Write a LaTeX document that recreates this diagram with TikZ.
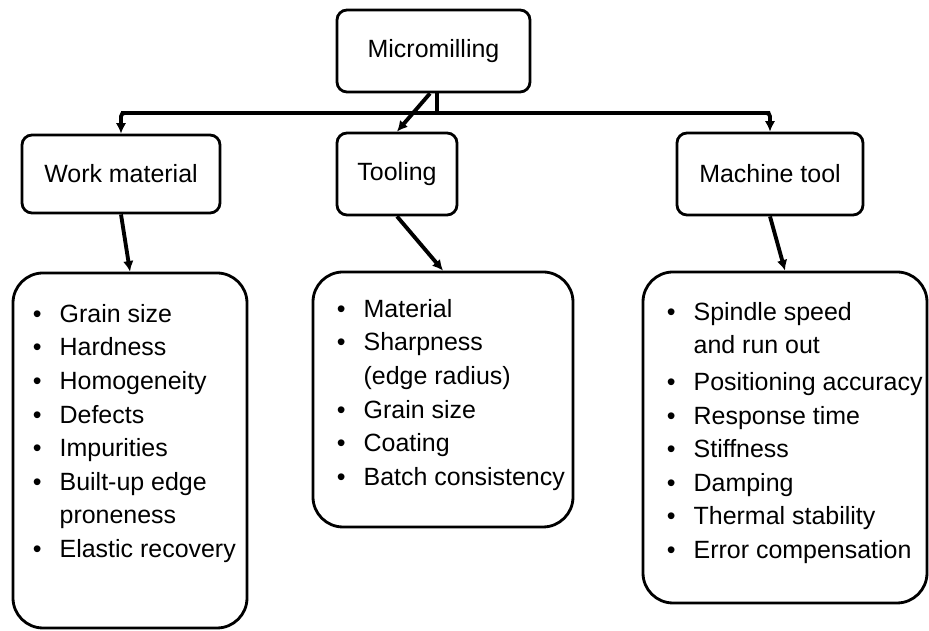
\documentclass[tikz,border=0pt]{standalone}
\usepackage{fontspec}
\setmainfont{Liberation Sans}
\usetikzlibrary{arrows.meta}

\begin{document}
\begin{tikzpicture}[
        box/.style={rectangle, draw, line width=1.6pt, rounded corners=.2cm, font=\fontsize{14.2}{19.1}\selectfont},
        listbox/.style={rectangle, draw, line width=1.6pt, rounded corners=.6cm},
        items/.style={anchor=north west, inner sep=0pt, font=\fontsize{14.2}{19.1}\selectfont},
        link/.style={line width=2.2pt, rounded corners=2pt},
        arrowlink/.style={link, -{Latex[length=6pt,width=6pt]}}
    ]
        \useasboundingbox (0,0) rectangle (18.58,12.62);

        \node[box, minimum width=3.86cm, minimum height=1.64cm] (mill) at (8.67,11.60) {Micromilling};
        \node[box, minimum width=3.96cm, minimum height=1.56cm] (work) at (2.42,9.14) {Work material};
        \node[box, minimum width=2.4cm, minimum height=1.64cm] (tool) at (7.94,9.14) {Tooling};
        \node[box, minimum width=3.72cm, minimum height=1.64cm] (mach) at (15.40,9.14) {Machine tool};

        \node[listbox, minimum width=4.68cm, minimum height=7.10cm] (workL) at (2.60,3.61) {};
        \node[listbox, minimum width=5.2cm, minimum height=5.1cm] (toolL) at (8.86,4.63) {};
        \node[listbox, minimum width=5.68cm, minimum height=6.62cm] (machL) at (15.70,3.87) {};

        \node[items] (workT) at ([shift={(0.42,-0.54)}]workL.north west) {%
            \begin{tabular}{@{}c@{\hspace{0.36cm}}l@{}}
            \textbullet & Grain size\\
            \textbullet & Hardness\\
            \textbullet & Homogeneity\\
            \textbullet & Defects\\
            \textbullet & Impurities\\
            \textbullet & Built-up edge\\
                        & proneness\\
            \textbullet & Elastic recovery
            \end{tabular}};
        \node[items] (toolT) at ([shift={(0.5,-0.46)}]toolL.north west) {%
            \begin{tabular}{@{}c@{\hspace{0.36cm}}l@{}}
            \textbullet & Material\\
            \textbullet & Sharpness\\
                        & (edge radius)\\
            \textbullet & Grain size\\
            \textbullet & Coating\\
            \textbullet & Batch consistency
            \end{tabular}};
        \node[items] (machT) at ([shift={(0.5,-0.52)}]machL.north west) {%
            \begin{tabular}{@{}c@{\hspace{0.36cm}}l@{}}
            \textbullet & Spindle speed\\
                        & and run out\\[0.06cm]
            \textbullet & Positioning accuracy\\
            \textbullet & Response time\\
            \textbullet & Stiffness\\
            \textbullet & Damping\\
            \textbullet & Thermal stability\\
            \textbullet & Error compensation
            \end{tabular}};

        \coordinate (barL) at (2.42,10.36);
        \coordinate (barR) at (15.40,10.36);

        \draw[link] ([xshift=.07cm]mill.south) -- ([xshift=.07cm]mill.south |- barL);
        \draw[arrowlink] (barR) -- (barL) -- (work.north);
        \draw[arrowlink] (barL) -- (barR) -- (mach.north);
        \draw[arrowlink] ([xshift=-.07cm]mill.south) -- (tool.north);

        \draw[arrowlink] (work.south) -- (workL.north);
        \draw[arrowlink] (tool.south) -- (toolL.north);
        \draw[arrowlink] (mach.south) -- (machL.north);
    \end{tikzpicture}
\end{document}
